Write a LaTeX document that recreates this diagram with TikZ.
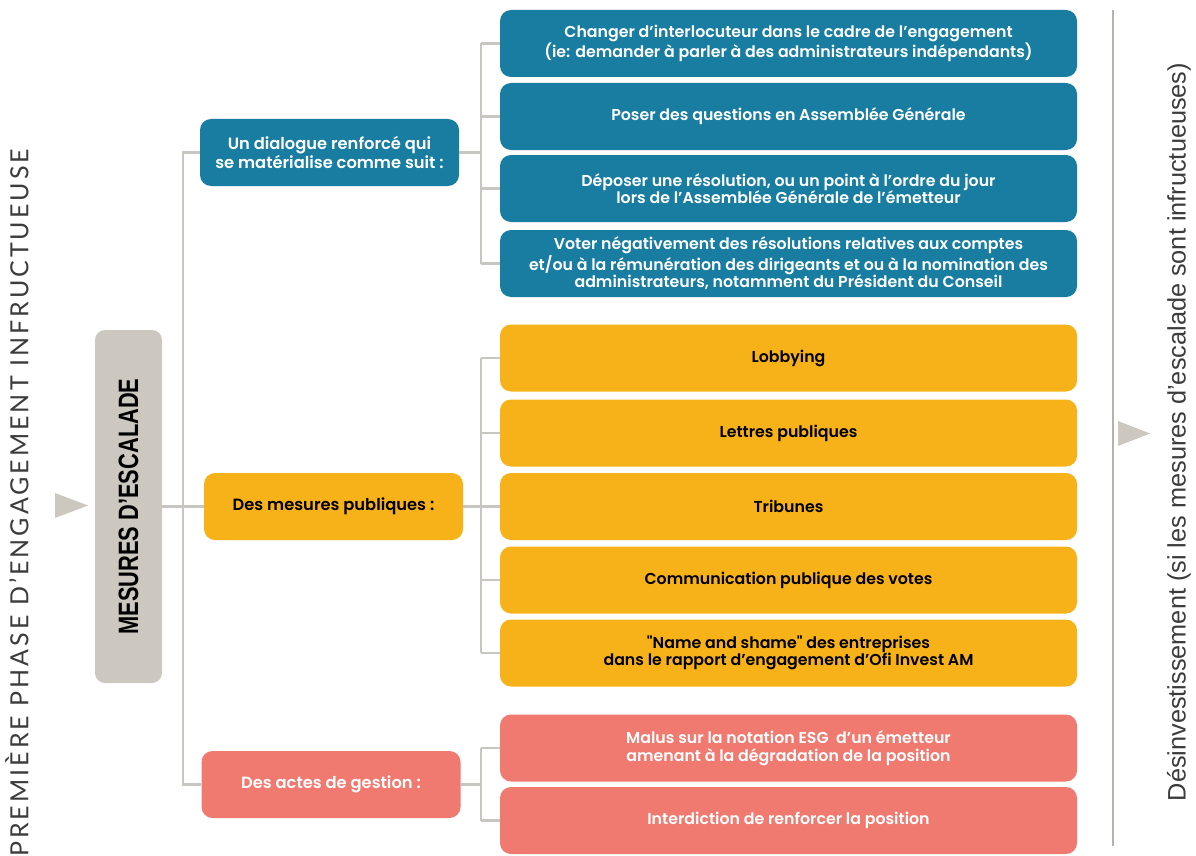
\documentclass[tikz,border=0pt]{standalone}
\usepackage{fontspec}
\setmainfont{Poppins}[UprightFont=* SemiBold]
\newfontfamily\leftfont[LetterSpace=12]{Lato}
\newfontfamily\rightfont{Liberation Sans}
\newfontfamily\mesfont{Liberation Sans}[UprightFont=* Bold]
\definecolor{cblue}{RGB}{24,125,160}
\definecolor{corange}{RGB}{247,178,26}
\definecolor{cred}{RGB}{240,122,112}
\definecolor{cgray}{RGB}{204,200,191}
\definecolor{cline}{RGB}{200,198,192}
\definecolor{ctext}{RGB}{60,60,60}
\tikzset{
  leaf/.style={rectangle, rounded corners=11pt, minimum width=577pt, minimum height=67pt, inner sep=0pt, align=center, font=\fontsize{15.8}{17.5}\selectfont},
  midbox/.style={rectangle, rounded corners=11pt, minimum width=259pt, minimum height=67pt, inner sep=0pt, align=center, font=\fontsize{16.3}{19}\selectfont},
  bluebox/.style={fill=cblue, text=white},
  orangebox/.style={fill=corange, text=black},
  redbox/.style={fill=cred, text=white},
  conn/.style={draw=cline, line width=2.6pt},
}
\begin{document}
\begin{tikzpicture}[x=1pt,y=-1pt]
\useasboundingbox[fill=white] (0,0) rectangle (1196,856);
% left label
\node[rotate=90, text=ctext, font=\leftfont\fontsize{25}{25}\selectfont] (lefttxt) at (17,503) {PREMIÈRE PHASE D’ENGAGEMENT INFRUCTUEUSE};
\fill[cgray] (55,493) -- (88,505.5) -- (55,518) -- cycle;
% main box
\node[rectangle, rounded corners=10pt, fill=cgray, minimum width=67pt, minimum height=353pt, inner sep=0pt] (mes) at (128.5,506.5) {};
\node[rotate=90, text=black, font=\mesfont\fontsize{28}{28}\selectfont] (mestxt) at (mes.center) {\scalebox{0.78}[1]{MESURES D’ESCALADE}};
% middle boxes
\node[midbox, bluebox] (m1) at (329.5,152.5) {Un dialogue renforcé qui\\se matérialise comme suit :};
\node[midbox, orangebox] (m2) at (333.5,506.5) {Des mesures publiques :};
\node[midbox, redbox] (m3) at (331,784.5) {Des actes de gestion :};
% leaves
\node[leaf, bluebox] (b1) at (788.5,43.5) {Changer d’interlocuteur dans le cadre de l’engagement\\(ie: demander à parler à des administrateurs indépendants)};
\node[leaf, bluebox] (b2) at (788.5,116.5) {Poser des questions en Assemblée Générale};
\node[leaf, bluebox] (b3) at (788.5,188.5) {Déposer une résolution, ou un point à l’ordre du jour\\lors de l’Assemblée Générale de l’émetteur};
\node[leaf, bluebox] (b4) at (788.5,263.5) {Voter négativement des résolutions relatives aux comptes\\et/ou à la rémunération des dirigeants et ou à la nomination des\\administrateurs, notamment du Président du Conseil};
\node[leaf, orangebox] (o1) at (788.5,358) {Lobbying};
\node[leaf, orangebox] (o2) at (788.5,433) {Lettres publiques};
\node[leaf, orangebox] (o3) at (788.5,506.5) {Tribunes};
\node[leaf, orangebox] (o4) at (788.5,580) {Communication publique des votes};
\node[leaf, orangebox] (o5) at (788.5,653) {{\addfontfeatures{Ligatures=TeXOff}"Name and shame"} des entreprises\\dans le rapport d’engagement d’Ofi Invest AM};
\node[leaf, redbox] (r1) at (788.5,748) {Malus sur la notation ESG\ \ d’un émetteur\\amenant à la dégradation de la position};
\node[leaf, redbox] (r2) at (788.5,820.5) {Interdiction de renforcer la position};
% connectors
\coordinate (trunk) at (183,0);
\coordinate (sub) at (481,0);
\draw[conn] (m1.west) -- (m1.west -| trunk) -- (m3.west -| trunk) -- (m3.west);
\draw[conn] (mes.east) -- (m2.west);
\draw[conn] (m1.east) -- (m1.east -| sub);
\draw[conn] (b1.west -| sub) -- (b4.west -| sub);
\foreach \n in {b1,b2,b3,b4} \draw[conn] (\n.west -| sub) -- (\n.west);
\draw[conn] (m2.east) -- (m2.east -| sub);
\draw[conn] (o1.west -| sub) -- (o5.west -| sub);
\foreach \n in {o1,o2,o3,o4,o5} \draw[conn] (\n.west -| sub) -- (\n.west);
\draw[conn] (m3.east) -- (m3.east -| sub);
\draw[conn] (r1.west -| sub) -- (r2.west -| sub);
\foreach \n in {r1,r2} \draw[conn] (\n.west -| sub) -- (\n.west);
% right side
\coordinate (vtop) at (1113,10);
\coordinate (vbot) at (1113,846);
\draw[draw=cline!90!black, line width=2pt] (vtop) -- (vbot);
\fill[cgray] (1118,421) -- (1150,433.5) -- (1118,446) -- cycle;
\node[rotate=90, text=ctext, font=\rightfont\fontsize{25.3}{25.3}\selectfont] (righttxt) at (1179,432) {Désinvestissement (si les mesures d’escalade sont infructueuses)};
\end{tikzpicture}
\end{document}
